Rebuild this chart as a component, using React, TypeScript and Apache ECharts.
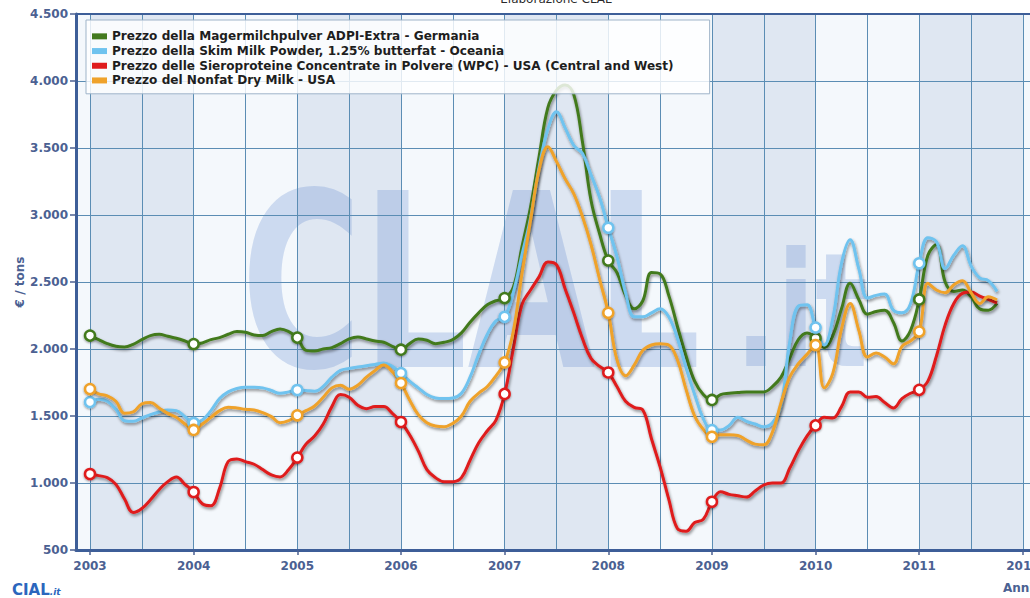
import React, { useEffect, useRef } from 'react';
import * as echarts from 'echarts';

// ---- data (monthly, Jan 2003 .. Oct 2011), €/ton ----
const START_YEAR = 2003;
const yearTicks = [2003, 2004, 2005, 2006, 2007, 2008, 2009, 2010, 2011, 2012];

const seriesNames = [
  'Prezzo della Magermilchpulver ADPI-Extra - Germania',
  'Prezzo della Skim Milk Powder, 1.25% butterfat - Oceania',
  'Prezzo delle Sieroproteine Concentrate in Polvere (WPC) - USA (Central and West)',
  'Prezzo del Nonfat Dry Milk - USA',
];
const seriesColors = ['#437a1f', '#6fc3ef', '#df1b1d', '#efa22b'];

const germanySMP = [
  2100, 2070, 2040, 2020, 2015, 2035, 2070, 2100, 2110, 2095, 2080, 2060,
  2037, 2045, 2070, 2085, 2110, 2130, 2125, 2105, 2100, 2130, 2150, 2130,
  2085, 1990, 1985, 2000, 2010, 2040, 2075, 2090, 2075, 2060, 2050, 2020,
  1995, 2040, 2075, 2065, 2040, 2050, 2070, 2120, 2200, 2270, 2330, 2360,
  2380, 2460, 2760, 3060, 3440, 3800, 3930, 3970, 3900, 3550, 3110, 2860,
  2660, 2570, 2400, 2300, 2360, 2570, 2560, 2400, 2170, 1950, 1760, 1660,
  1620, 1660, 1670, 1675, 1680, 1680, 1680, 1720, 1790, 1930, 2070, 2120,
  2080, 2010, 2100, 2300, 2490, 2370, 2260, 2280, 2290, 2200, 2060, 2140,
  2370, 2700, 2780, 2500, 2430, 2440, 2390, 2300, 2290, 2340,
];
const oceaniaSMP = [
  1604, 1625, 1610, 1550, 1465, 1460, 1485, 1510, 1530, 1545, 1540, 1495,
  1448, 1470, 1540, 1630, 1680, 1705, 1715, 1715, 1710, 1690, 1670, 1680,
  1694, 1690, 1685, 1720, 1790, 1840, 1855, 1865, 1875, 1885, 1895, 1870,
  1820, 1760, 1710, 1660, 1635, 1630, 1635, 1670, 1790, 1960, 2110, 2210,
  2240, 2420, 2700, 2980, 3360, 3640, 3770, 3650, 3520, 3460, 3300, 3130,
  2905, 2690, 2420, 2240, 2240, 2270, 2300, 2240, 2080, 1860, 1660, 1480,
  1395, 1395, 1430, 1490, 1460, 1440, 1420, 1450, 1580, 2050, 2320, 2330,
  2160, 2030, 2230, 2640, 2815, 2600, 2380, 2400, 2410, 2290, 2270, 2340,
  2640, 2830, 2800, 2600, 2700, 2770, 2620, 2530, 2510, 2430,
];
const usaWPC = [
  1067, 1055, 1040, 990, 880, 780, 810, 875, 950, 1010, 1045, 990,
  933, 845, 830, 960, 1160, 1180, 1160, 1140, 1100, 1060, 1045, 1100,
  1190, 1290, 1350, 1440, 1570, 1660, 1640, 1580, 1555, 1570, 1570, 1520,
  1455, 1360, 1240, 1100, 1040, 1010, 1010, 1040, 1170, 1300, 1390, 1470,
  1665, 2000, 2330, 2440, 2540, 2650, 2630, 2450, 2270, 2080, 1930, 1870,
  1825, 1720, 1610, 1565, 1545, 1330, 1120, 880, 660, 640, 705, 730,
  860, 935, 915, 905, 895, 940, 985, 1000, 1000, 1110, 1240, 1350,
  1430, 1490, 1485, 1570, 1680, 1680, 1640, 1645, 1600, 1560, 1630, 1670,
  1695, 1760, 1950, 2180, 2340, 2415, 2425, 2395, 2370, 2345,
];
const usaNFDM = [
  1701, 1665, 1650, 1610, 1520, 1530, 1590, 1600, 1560, 1520, 1490, 1440,
  1396, 1440, 1490, 1540, 1565, 1560, 1550, 1545, 1525, 1495, 1450, 1465,
  1505, 1540, 1575, 1640, 1710, 1730, 1700, 1730, 1790, 1840, 1880, 1830,
  1746, 1620, 1510, 1450, 1425, 1420, 1445, 1500, 1610, 1670, 1720, 1800,
  1900, 2130, 2560, 2960, 3340, 3510, 3400, 3270, 3160, 2990, 2780, 2520,
  2270, 1920, 1800, 1880, 1990, 2030, 2040, 2030, 1920, 1700, 1500, 1400,
  1345, 1360, 1360, 1355, 1320, 1290, 1285, 1380, 1600, 1790, 1890, 1960,
  2030, 1710, 1820, 2150, 2340, 2140, 1940, 1970, 1940, 1890, 2020, 2060,
  2130, 2490, 2440, 2420, 2480, 2510, 2420, 2340, 2390, 2365,
];
const seriesValues = [germanySMP, oceaniaSMP, usaWPC, usaNFDM];

const AXIS_TEXT = '#4b6192';
const AXIS_LINE = '#3d5e98';
const GRID_LINE = '#5b8db4';

const fmtThousands = (v: number) => String(v).replace(/\B(?=(\d{3})+(?!\d))/g, '.');

export default function App() {
  const ref = useRef<HTMLDivElement>(null);

  useEffect(() => {
    if (!ref.current) return;
    document.body.style.overflow = 'hidden';
    const chart = echarts.init(ref.current, null, { renderer: 'svg' });

    const halfYearLines: number[] = [];
    yearTicks.forEach((y) => {
      halfYearLines.push(y);
      halfYearLines.push(y + 0.5);
    });
    const darkBands = yearTicks
      .filter((y) => y % 2 === 1)
      .map((y) => [{ xAxis: y }, { xAxis: y + 1 }]);

    const dataSeries = seriesValues.map((vals, si) => ({
      name: seriesNames[si],
      type: 'line',
      z: 10,
      smooth: 0.4,
      showAllSymbol: true,
      symbol: (_v: any, p: any) => (p.dataIndex % 12 === 0 ? 'circle' : 'none'),
      symbolSize: 10,
      data: vals.map((v, i) => [START_YEAR + i / 12, v]),
      lineStyle: {
        color: seriesColors[si],
        width: 3,
        shadowColor: 'rgba(0,0,0,0.45)',
        shadowBlur: 3,
        shadowOffsetX: 1,
        shadowOffsetY: 2,
      },
      itemStyle: {
        color: '#ffffff',
        borderColor: seriesColors[si],
        borderWidth: 2.5,
        shadowColor: 'rgba(0,0,0,0.4)',
        shadowBlur: 2,
        shadowOffsetY: 1,
      },
      emphasis: { disabled: true },
    }));

    const option: any = {
      animation: false,
      grid: {
        left: 76,
        right: 0,
        top: 14,
        bottom: 48,
        show: true,
        backgroundColor: '#f4f8fc',
        borderWidth: 0,
      },
      legend: {
        show: true,
        orient: 'vertical',
        left: 86,
        top: 20,
        z: 20,
        itemWidth: 15,
        itemHeight: 6,
        itemGap: 0,
        icon: 'rect',
        padding: [9, 36, 6, 6],
        backgroundColor: 'rgba(255,255,255,0.82)',
        borderColor: '#9fb4c9',
        borderWidth: 1,
        selectedMode: false,
        textStyle: {
          fontFamily: '"DejaVu Sans", sans-serif',
          fontWeight: 'bold',
          fontSize: 12.1,
          color: '#1e1e1e',
          lineHeight: 14.7,
        },
        data: seriesNames.map((n, i) => ({
          name: n,
          itemStyle: { color: seriesColors[i], borderWidth: 0 },
        })),
      },
      xAxis: {
        type: 'value',
        min: 2002.865,
        max: 2012.3,
        z: 3,
        axisLine: { show: true, onZero: false, lineStyle: { color: AXIS_LINE, width: 3 } },
        axisTick: {
          show: true,
          customValues: yearTicks,
          length: 5,
          lineStyle: { color: AXIS_TEXT, width: 1.5 },
        },
        axisLabel: {
          customValues: yearTicks,
          formatter: (v: number) => String(Math.round(v)),
          color: AXIS_TEXT,
          fontFamily: '"DejaVu Sans", sans-serif',
          fontWeight: 'bold',
          fontSize: 12,
          margin: 10,
        },
        splitLine: { show: false },
      },
      yAxis: {
        type: 'value',
        min: 500,
        max: 4500,
        interval: 500,
        z: 3,
        name: '€ / tons',
        nameLocation: 'middle',
        nameRotate: 90,
        nameGap: 50,
        nameMoveOverlap: false,
        nameTextStyle: {
          color: AXIS_TEXT,
          fontFamily: '"DejaVu Sans", sans-serif',
          fontWeight: 'bold',
          fontSize: 12,
        },
        axisLine: { show: true, lineStyle: { color: AXIS_LINE, width: 3 } },
        axisTick: { show: true, length: 6, lineStyle: { color: AXIS_TEXT, width: 1.5 } },
        axisLabel: {
          formatter: (v: number) => fmtThousands(v),
          color: AXIS_TEXT,
          fontFamily: '"DejaVu Sans", sans-serif',
          fontWeight: 'bold',
          fontSize: 12,
          margin: 8,
        },
        splitLine: { show: true, lineStyle: { color: GRID_LINE, width: 1 } },
      },
      graphic: [
        {
          type: 'text',
          z: 2,
          silent: true,
          x: 241,
          y: 283,
          scaleX: 0.68,
          style: {
            text: 'CLAL',
            font: '900 243px "DejaVu Sans", sans-serif',
            fill: 'rgba(100,140,210,0.28)',
            verticalAlign: 'middle',
            align: 'left',
          },
        },
        {
          type: 'text',
          z: 2,
          silent: true,
          x: 735,
          y: 311,
          scaleX: 0.7,
          style: {
            text: '.it',
            font: '900 158px "DejaVu Sans", sans-serif',
            fill: 'rgba(100,140,210,0.28)',
            verticalAlign: 'middle',
            align: 'left',
          },
        },
        {
          type: 'text',
          z: 30,
          silent: true,
          x: 556,
          y: 5,
          style: {
            text: 'Elaborazione CLAL',
            font: '12px "DejaVu Sans", sans-serif',
            fill: '#2a2a2a',
            align: 'center',
            verticalAlign: 'bottom',
          },
        },
        {
          type: 'text',
          z: 30,
          silent: true,
          x: 1003,
          y: 588,
          style: {
            text: 'Anni',
            font: 'bold 12px "DejaVu Sans", sans-serif',
            fill: AXIS_TEXT,
            align: 'left',
            verticalAlign: 'middle',
          },
        },
        {
          type: 'text',
          z: 30,
          silent: true,
          x: 12,
          y: 590,
          style: {
            text: '{a|CIAL}{b|.it}',
            verticalAlign: 'middle',
            align: 'left',
            rich: {
              a: {
                font: '900 15px "DejaVu Sans", sans-serif',
                fill: '#2b66bd',
              },
              b: {
                font: 'italic 900 9px "DejaVu Sans", sans-serif',
                fill: '#2b66bd',
                padding: [4, 0, 0, 0],
              },
            },
          },
        },
      ],
      series: [
        {
          name: '__grid',
          type: 'line',
          data: [],
          z: 1,
          silent: true,
          markArea: {
            silent: true,
            z: 1,
            itemStyle: { color: '#dfe7f2' },
            data: darkBands,
          },
          markLine: {
            silent: true,
            z: 3,
            symbol: ['none', 'none'],
            label: { show: false },
            emphasis: { disabled: true },
            lineStyle: { color: GRID_LINE, width: 1, type: 'solid' },
            data: [
              ...halfYearLines.map((v) => ({ xAxis: v })),
              { yAxis: 4500, lineStyle: { color: AXIS_LINE, width: 2, type: 'solid' } },
            ],
          },
        },
        ...dataSeries,
      ],
    };

    chart.setOption(option);
    return () => chart.dispose();
  }, []);

  return (
    <div
      ref={ref}
      style={{ position: 'fixed', left: 0, top: 0, width: 1054, height: 598, background: '#ffffff' }}
    />
  );
}
